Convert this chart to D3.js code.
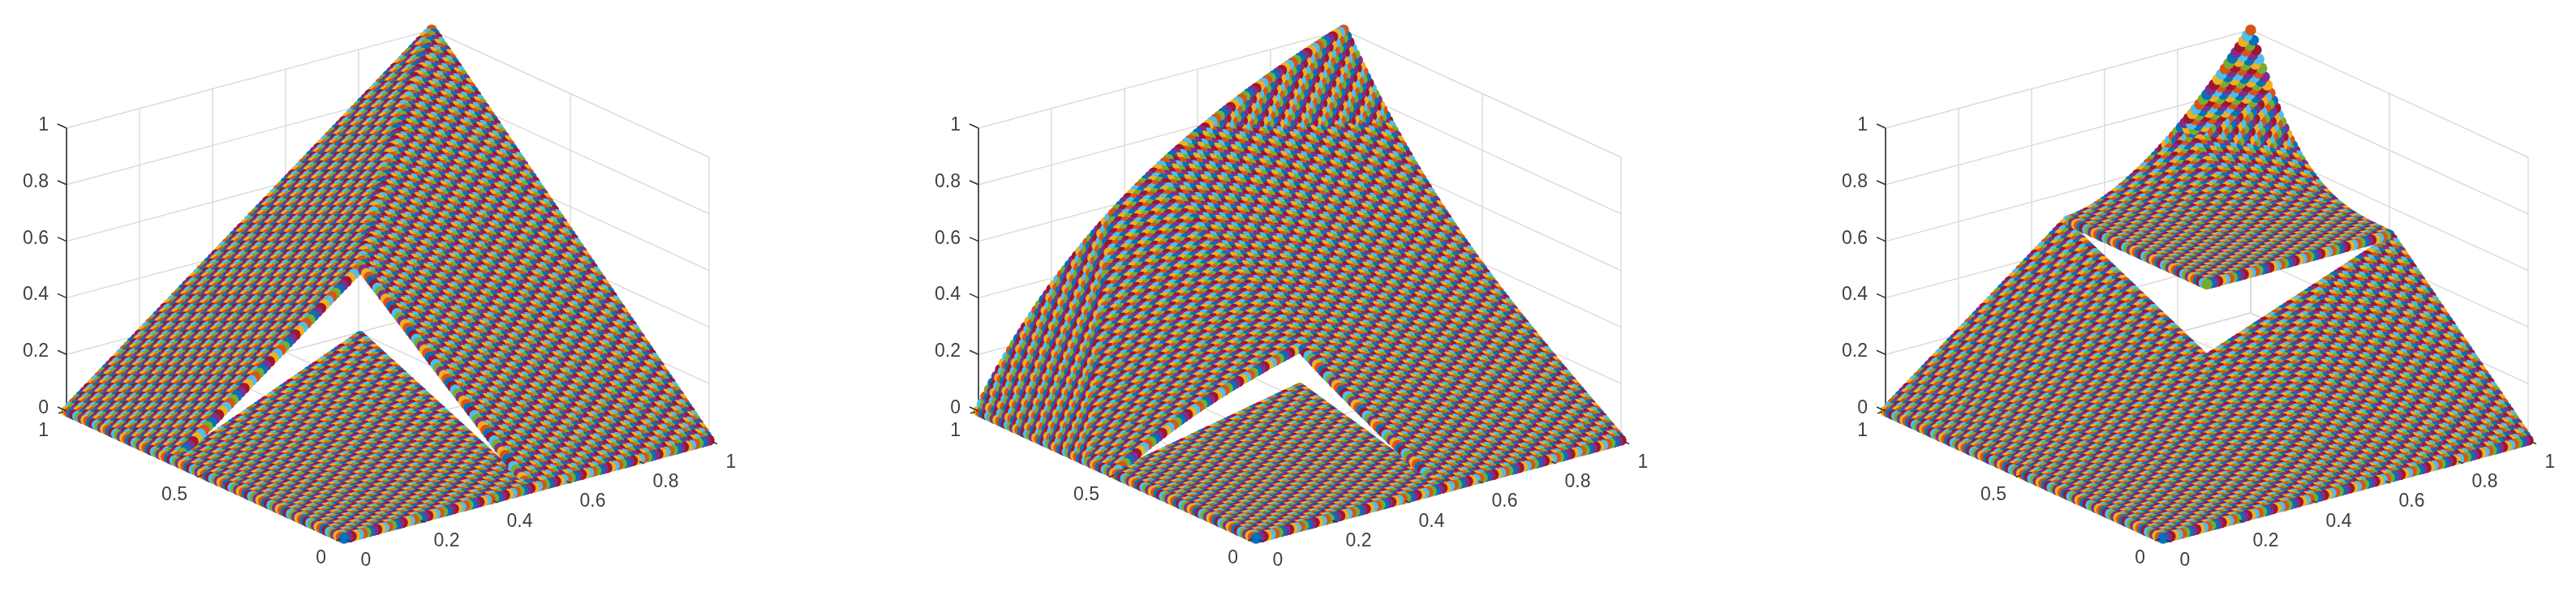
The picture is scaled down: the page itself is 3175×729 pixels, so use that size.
<!DOCTYPE html>
<html>
<head>
<meta charset="utf-8">
<script src="https://cdn.jsdelivr.net/npm/d3@7"></script>
<style>
html,body{margin:0;padding:0;background:#fff}
svg{display:block;filter:blur(0.7px)}
text{font-family:"Liberation Sans",Arial,sans-serif;font-size:23px;fill:#404040}
</style>
</head>
<body>
<svg id="chart" width="3175" height="729"></svg>
<script>
// NOTE: the reference holds 10201 markers per panel, too many to type as read values.
// The marker heights are computed from piecewise surface rules whose parameters below
// (gap corners, curve constants, scale factors) were estimated from the picture.
const tickX = [0, 0.2, 0.4, 0.6, 0.8, 1];
const tickY = [0, 0.5, 1];
const tickZ = [0, 0.2, 0.4, 0.6, 0.8, 1];
const tickLabelX = ["0", "0.2", "0.4", "0.6", "0.8", "1"];
const tickLabelY = ["0", "0.5", "1"];
const tickLabelZ = ["0", "0.2", "0.4", "0.6", "0.8", "1"];
const gridSteps = d3.range(0, 101);
const seriesColors = ["#0072BD", "#D95319", "#EDB120", "#7E2F8E", "#77AC30", "#4DBEEE", "#A2142F"];

// parameters
const gapCornerLeft = [0.5, 0.6];     // panel 1: x, y extent of the lower patch
const lowerScaleLeft = 0.9;
const gapCornerMiddle = [0.5, 0.5];   // panel 2
const lowerScaleMiddle = 0.53;
const bendMiddle = 0.8;               // panel 2: bend of the x profile
const edgeMiddle = [0.7, 0.3, 2.5];   // panel 2: profile along the x=1 edge
const patchStartRight = [0.5, 0.5];   // panel 3: lower corner of the raised patch
const plateauRight = 0.5;
const riseExponentRight = [1.7, 3.2]; // panel 3: rise along x, rise along y

function surfaceLeft(x, y) {
  if (x <= gapCornerLeft[0] && y <= gapCornerLeft[1]) return lowerScaleLeft * x * y;
  return Math.min(x, y * (2 + x) / 3);
}
function surfaceMiddle(x, y) {
  if (x <= gapCornerMiddle[0] && y <= gapCornerMiddle[1]) return lowerScaleMiddle * x * y;
  const profileX = x * (1 + bendMiddle) / (x + bendMiddle);
  const profileY = y * (edgeMiddle[0] + edgeMiddle[1] * Math.pow(y, edgeMiddle[2]));
  return profileX * profileY;
}
function surfaceRight(x, y) {
  if (x >= patchStartRight[0] && y >= patchStartRight[1]) {
    const t = (x - patchStartRight[0]) / (1 - patchStartRight[0]);
    const s = (y - patchStartRight[1]) / (1 - patchStartRight[1]);
    return plateauRight + (1 - plateauRight) * Math.pow(t, riseExponentRight[0]) * Math.pow(s, riseExponentRight[1]);
  }
  return x * y;
}

// layout
const frontXs = [424, 1548, 2666];
const frontY = 664;
const surfaces = [surfaceLeft, surfaceMiddle, surfaceRight];
const gx = d3.scaleLinear().domain([0, 1]).range([0, 450]);
const gy = d3.scaleLinear().domain([0, 1]).range([0, -342]);
const hx = d3.scaleLinear().domain([0, 1]).range([0, -121]);
const hy = d3.scaleLinear().domain([0, 1]).range([0, -157]);
const hz = d3.scaleLinear().domain([0, 1]).range([0, -349]);
const index = d3.scaleLinear().domain([0, 100]).range([0, 1]);

const svg = d3.select("#chart");
surfaces.forEach((surface, p) => {
  const g = svg.append("g").attr("transform", `translate(${frontXs[p]},${frontY})`);
  const px = (x, y) => gx(x) + gy(y);
  const py = (x, y, z) => hx(x) + hy(y) + hz(z);
  const segs = [];
  tickX.forEach(t => {
    segs.push([t, 1, 0, t, 1, 1]);
    segs.push([t, 0, 0, t, 1, 0]);
  });
  tickY.forEach(t => {
    segs.push([1, t, 0, 1, t, 1]);
    segs.push([0, t, 0, 1, t, 0]);
  });
  tickZ.forEach(t => {
    segs.push([0, 1, t, 1, 1, t]);
    segs.push([1, 0, t, 1, 1, t]);
  });
  g.append("g").selectAll("line").data(segs).join("line")
    .attr("x1", d => px(d[0], d[1])).attr("y1", d => py(d[0], d[1], d[2]))
    .attr("x2", d => px(d[3], d[4])).attr("y2", d => py(d[3], d[4], d[5]))
    .attr("stroke", "#dadada").attr("stroke-width", 1.4);
  const rulers = [[0, 1, 0, 0, 1, 1], [0, 1, 0, 0, 0, 0], [0, 0, 0, 1, 0, 0]];
  g.append("g").selectAll("line").data(rulers).join("line")
    .attr("x1", d => px(d[0], d[1])).attr("y1", d => py(d[0], d[1], d[2]))
    .attr("x2", d => px(d[3], d[4])).attr("y2", d => py(d[3], d[4], d[5]))
    .attr("stroke", "#303030").attr("stroke-width", 1.6);
  const pts = [];
  gridSteps.forEach((i, ii) => gridSteps.forEach((j, jj) => {
    const x = index(i), y = index(j), z = surface(x, y);
    pts.push({x, y, z, c: seriesColors[(ii * gridSteps.length + jj) % seriesColors.length],
              depth: -0.527 * x - 0.687 * y + 0.5 * z});
  }));
  pts.sort((a, b) => d3.ascending(a.depth, b.depth));
  g.append("g").selectAll("circle").data(pts).join("circle")
    .attr("cx", d => px(d.x, d.y)).attr("cy", d => py(d.x, d.y, d.z))
    .attr("r", 6.8).attr("fill", d => d.c);
  const ticks = g.append("g").attr("stroke", "#303030").attr("stroke-width", 1.5);
  tickZ.forEach(t => ticks.append("line")
    .attr("x1", px(0, 1)).attr("y1", py(0, 1, t))
    .attr("x2", px(0, 1) - 11).attr("y2", py(0, 1, t) - 5));
  tickX.forEach(t => ticks.append("line")
    .attr("x1", px(t, 0) + 4).attr("y1", py(t, 0, 0) + 2)
    .attr("x2", px(t, 0) + 10).attr("y2", py(t, 0, 0) + 4.5));
  tickY.forEach(t => ticks.append("line")
    .attr("x1", px(0, t) - 4).attr("y1", py(0, t, 0) + 1)
    .attr("x2", px(0, t) - 10).attr("y2", py(0, t, 0) + 2.7));
  const labels = g.append("g");
  tickX.forEach((t, i) => labels.append("text").text(tickLabelX[i])
    .attr("x", px(t, 0) + 20.5).attr("y", py(t, 0, 0) + 26)
    .attr("dominant-baseline", "central"));
  tickY.forEach((t, i) => labels.append("text").text(tickLabelY[i])
    .attr("text-anchor", "end")
    .attr("x", px(0, t) - 22).attr("y", py(0, t, 0) + 23)
    .attr("dominant-baseline", "central"));
  tickZ.forEach((t, i) => labels.append("text").text(tickLabelZ[i])
    .attr("text-anchor", "end")
    .attr("x", px(0, 1) - 22).attr("y", py(0, 1, t) - 5)
    .attr("dominant-baseline", "central"));
});
</script>
</body>
</html>
